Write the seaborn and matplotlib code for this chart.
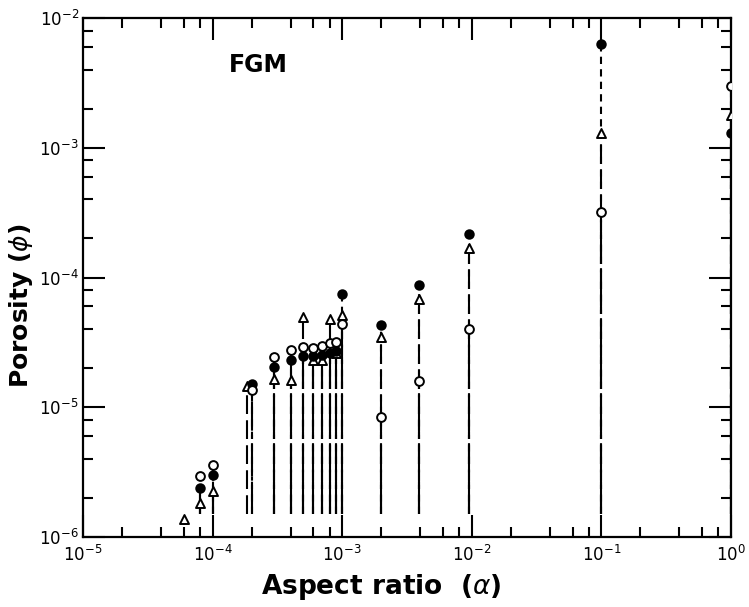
import numpy as np
import pandas as pd
import matplotlib
matplotlib.use("Agg")
import matplotlib.pyplot as plt
import seaborn as sns
from matplotlib.ticker import LogLocator, LogFormatterMathtext, NullFormatter

# ---- data ----
filled_x = [8e-5, 1e-4, 2e-4, 3e-4, 4e-4, 5e-4, 6e-4, 7e-4, 8e-4, 9e-4, 1e-3, 2e-3, 3.9e-3, 9.5e-3, 1e-1, 1.0]
filled_y = [2.4e-6, 3.0e-6, 1.5e-5, 2.05e-5, 2.3e-5, 2.5e-5, 2.5e-5, 2.55e-5, 2.6e-5, 2.7e-5, 7.5e-5, 4.3e-5, 8.7e-5, 2.15e-4, 6.3e-3, 1.3e-3]

open_x = [8e-5, 1e-4, 2e-4, 3e-4, 4e-4, 5e-4, 6e-4, 7e-4, 8e-4, 9e-4, 1e-3, 2e-3, 3.9e-3, 9.5e-3, 1e-1, 1.0]
open_y = [2.95e-6, 3.6e-6, 1.35e-5, 2.43e-5, 2.76e-5, 2.9e-5, 2.85e-5, 2.95e-5, 3.1e-5, 3.2e-5, 4.4e-5, 8.4e-6, 1.6e-5, 4.0e-5, 3.2e-4, 3.0e-3]

tri_x = [6e-5, 8e-5, 1e-4, 1.85e-4, 3e-4, 4e-4, 5e-4, 6e-4, 7e-4, 8e-4, 9e-4, 1e-3, 2e-3, 3.9e-3, 9.5e-3, 1e-1, 1.0]
tri_y = [1.38e-6, 1.82e-6, 2.27e-6, 1.45e-5, 1.64e-5, 1.62e-5, 5.0e-5, 2.3e-5, 2.3e-5, 4.8e-5, 2.6e-5, 5.1e-5, 3.5e-5, 6.8e-5, 1.7e-4, 1.29e-3, 1.78e-3]

line_base = 1.5e-6
x_limits = (1e-5, 1.0)
y_limits = (1e-6, 1e-2)
panel_label = "FGM"
x_label = "Aspect ratio  ($\\alpha$)"
y_label = "Porosity ($\\phi$)"

# ---- figure ----
sns.set_style("ticks")
plt.rcParams["font.family"] = ["DejaVu Sans"]
plt.rcParams["mathtext.fontset"] = "dejavusans"
for key in ("text.color", "axes.labelcolor", "xtick.color", "ytick.color", "axes.edgecolor"):
    plt.rcParams[key] = "black"

fig = plt.figure(figsize=(7.49, 6.07), dpi=100)
ax = fig.add_axes([83 / 749, 1 - 537 / 607, (731 - 83) / 749, (537 - 18) / 607])
ax.set_xscale("log")
ax.set_yscale("log")

series = [
    ("filled", filled_x, filled_y, (0, (3.5, 2.5))),
    ("triangle", tri_x, tri_y, (0, (9, 3))),
    ("open", open_x, open_y, (0, (14, 2, 2, 2))),
]

for name, xs, ys, ls in series:
    xs = np.asarray(xs)
    ys = np.asarray(ys)
    m = ys > line_base
    ax.vlines(xs[m], line_base, ys[m], colors="black", linewidth=1.5,
              linestyles=[ls], zorder=2)

df_open = pd.DataFrame({"x": open_x, "y": open_y})
df_filled = pd.DataFrame({"x": filled_x, "y": filled_y})
df_tri = pd.DataFrame({"x": tri_x, "y": tri_y})

sns.scatterplot(data=df_filled, x="x", y="y", ax=ax, marker="o", s=40,
                color="black", edgecolor="black", linewidth=1.2, zorder=4)
sns.scatterplot(data=df_tri, x="x", y="y", ax=ax, marker="^", s=42,
                facecolor="white", edgecolor="black", linewidth=1.4, zorder=3)
sns.scatterplot(data=df_open, x="x", y="y", ax=ax, marker="o", s=40,
                facecolor="white", edgecolor="black", linewidth=1.4, zorder=5)

ax.set_xlim(*x_limits)
ax.set_ylim(*y_limits)

for axis in (ax.xaxis, ax.yaxis):
    axis.set_major_locator(LogLocator(base=10, numticks=10))
    axis.set_major_formatter(LogFormatterMathtext())
    axis.set_minor_locator(LogLocator(base=10, subs=(2, 4, 6, 8), numticks=10))
    axis.set_minor_formatter(NullFormatter())

ax.tick_params(which="both", direction="in", top=True, right=True, color="black")
ax.tick_params(which="major", length=16, width=1.5, labelsize=12, pad=6)
ax.tick_params(axis="y", which="major", pad=3)
ax.tick_params(which="minor", length=7, width=1.5)
for sp in ax.spines.values():
    sp.set_linewidth(1.6)
    sp.set_color("black")

ax.set_xlabel(x_label, fontsize=19, fontweight="bold")
ax.set_ylabel(y_label, fontsize=18, fontweight="bold")
ax.xaxis.set_label_coords((381 - 83) / 648, -0.068)
ax.yaxis.set_label_coords(-0.074, 0.445)
ax.text(0.27, 0.91, panel_label, transform=ax.transAxes, fontsize=17,
        fontweight="bold", va="center", ha="center")

fig.savefig("out.png", dpi=100)
